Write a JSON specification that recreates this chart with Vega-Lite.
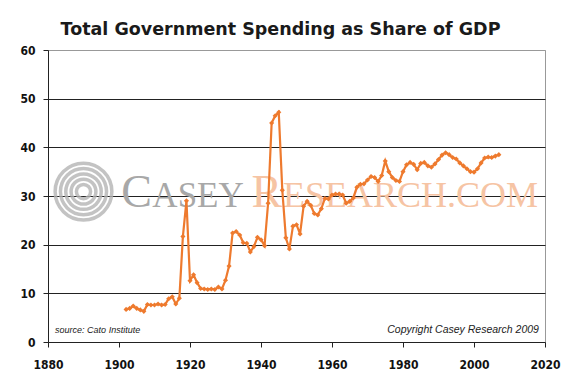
{
  "$schema": "https://vega.github.io/schema/vega-lite/v6.json",
  "width": 497,
  "height": 292,
  "autosize": {"type": "none"},
  "padding": {"left": 48, "top": 50, "right": 35, "bottom": 39},
  "background": "white",
  "title": {
    "text": "Total Government Spending as Share of GDP",
    "font": "DejaVu Sans",
    "fontSize": 17.5,
    "fontWeight": "bold",
    "color": "#1a1a1a",
    "anchor": "middle",
    "dx": -16,
    "offset": 6
  },
  "config": {
    "view": {"stroke": "#999999", "strokeWidth": 1},
    "axis": {
      "labelFont": "Liberation Sans Narrow, DejaVu Sans Condensed, sans-serif",
      "labelFontWeight": "bold",
      "labelFontSize": 12,
      "labelColor": "#111111",
      "domainColor": "#222222",
      "tickColor": "#222222",
      "tickSize": 5,
      "title": null
    }
  },
  "datasets": {
    "spend": [
      {"year": 1902, "share": 6.7}, {"year": 1903, "share": 6.9}, {"year": 1904, "share": 7.4},
      {"year": 1905, "share": 6.9}, {"year": 1906, "share": 6.6}, {"year": 1907, "share": 6.3},
      {"year": 1908, "share": 7.7}, {"year": 1909, "share": 7.6}, {"year": 1910, "share": 7.6},
      {"year": 1911, "share": 7.8}, {"year": 1912, "share": 7.6}, {"year": 1913, "share": 7.7},
      {"year": 1914, "share": 8.9}, {"year": 1915, "share": 9.3}, {"year": 1916, "share": 7.8},
      {"year": 1917, "share": 9.0}, {"year": 1918, "share": 21.7}, {"year": 1919, "share": 29.0},
      {"year": 1920, "share": 12.6}, {"year": 1921, "share": 13.8}, {"year": 1922, "share": 12.2},
      {"year": 1923, "share": 11.0}, {"year": 1924, "share": 10.9}, {"year": 1925, "share": 10.8},
      {"year": 1926, "share": 10.9}, {"year": 1927, "share": 10.8}, {"year": 1928, "share": 11.3},
      {"year": 1929, "share": 10.9}, {"year": 1930, "share": 12.7}, {"year": 1931, "share": 15.6},
      {"year": 1932, "share": 22.4}, {"year": 1933, "share": 22.7}, {"year": 1934, "share": 22.0},
      {"year": 1935, "share": 20.4}, {"year": 1936, "share": 20.3}, {"year": 1937, "share": 18.5},
      {"year": 1938, "share": 19.6}, {"year": 1939, "share": 21.5}, {"year": 1940, "share": 21.0},
      {"year": 1941, "share": 19.8}, {"year": 1942, "share": 28.5}, {"year": 1943, "share": 45.0},
      {"year": 1944, "share": 46.5}, {"year": 1945, "share": 47.2}, {"year": 1946, "share": 31.2},
      {"year": 1947, "share": 21.4}, {"year": 1948, "share": 19.1}, {"year": 1949, "share": 23.8},
      {"year": 1950, "share": 24.1}, {"year": 1951, "share": 22.2}, {"year": 1952, "share": 27.9},
      {"year": 1953, "share": 28.9}, {"year": 1954, "share": 28.1}, {"year": 1955, "share": 26.4},
      {"year": 1956, "share": 26.1}, {"year": 1957, "share": 27.4}, {"year": 1958, "share": 29.5},
      {"year": 1959, "share": 29.4}, {"year": 1960, "share": 30.2}, {"year": 1961, "share": 30.4},
      {"year": 1962, "share": 30.4}, {"year": 1963, "share": 30.2}, {"year": 1964, "share": 28.5},
      {"year": 1965, "share": 28.9}, {"year": 1966, "share": 29.6}, {"year": 1967, "share": 31.8},
      {"year": 1968, "share": 32.4}, {"year": 1969, "share": 32.5}, {"year": 1970, "share": 33.3},
      {"year": 1971, "share": 34.0}, {"year": 1972, "share": 33.8}, {"year": 1973, "share": 33.0},
      {"year": 1974, "share": 34.2}, {"year": 1975, "share": 37.2}, {"year": 1976, "share": 35.0},
      {"year": 1977, "share": 33.8}, {"year": 1978, "share": 33.2}, {"year": 1979, "share": 33.0},
      {"year": 1980, "share": 35.0}, {"year": 1981, "share": 36.4}, {"year": 1982, "share": 36.9},
      {"year": 1983, "share": 36.5}, {"year": 1984, "share": 35.4}, {"year": 1985, "share": 36.7},
      {"year": 1986, "share": 36.9}, {"year": 1987, "share": 36.2}, {"year": 1988, "share": 35.9},
      {"year": 1989, "share": 36.6}, {"year": 1990, "share": 37.5}, {"year": 1991, "share": 38.4},
      {"year": 1992, "share": 38.9}, {"year": 1993, "share": 38.5}, {"year": 1994, "share": 37.9},
      {"year": 1995, "share": 37.6}, {"year": 1996, "share": 36.8}, {"year": 1997, "share": 36.2},
      {"year": 1998, "share": 35.6}, {"year": 1999, "share": 35.0}, {"year": 2000, "share": 34.9},
      {"year": 2001, "share": 35.6}, {"year": 2002, "share": 36.8}, {"year": 2003, "share": 37.8},
      {"year": 2004, "share": 38.0}, {"year": 2005, "share": 37.9}, {"year": 2006, "share": 38.2},
      {"year": 2007, "share": 38.5}
    ],
    "one": [{}]
  },
  "layer": [
    {
      "data": {"name": "one"},
      "mark": {"type": "point", "shape": "circle", "filled": false, "strokeWidth": 3.5, "color": "#b5b5b5", "size": 3217, "opacity": 0.8},
      "encoding": {
        "x": {"datum": 1890, "type": "quantitative"},
        "y": {"datum": 30.9, "type": "quantitative"}
      }
    },
    {
      "data": {"name": "one"},
      "mark": {"type": "point", "shape": "circle", "filled": false, "strokeWidth": 3.5, "color": "#b5b5b5", "size": 2124, "opacity": 0.8},
      "encoding": {
        "x": {"datum": 1890, "type": "quantitative"},
        "y": {"datum": 30.9, "type": "quantitative"}
      }
    },
    {
      "data": {"name": "one"},
      "mark": {"type": "point", "shape": "circle", "filled": false, "strokeWidth": 3.5, "color": "#b5b5b5", "size": 1257, "opacity": 0.8},
      "encoding": {
        "x": {"datum": 1890, "type": "quantitative"},
        "y": {"datum": 30.9, "type": "quantitative"}
      }
    },
    {
      "data": {"name": "one"},
      "mark": {"type": "point", "shape": "circle", "filled": false, "strokeWidth": 3.5, "color": "#b5b5b5", "size": 616, "opacity": 0.8},
      "encoding": {
        "x": {"datum": 1890, "type": "quantitative"},
        "y": {"datum": 30.9, "type": "quantitative"}
      }
    },
    {
      "data": {"name": "one"},
      "mark": {"type": "point", "shape": "circle", "filled": false, "strokeWidth": 3.5, "color": "#b5b5b5", "size": 201, "opacity": 0.8},
      "encoding": {
        "x": {"datum": 1890, "type": "quantitative"},
        "y": {"datum": 30.9, "type": "quantitative"}
      }
    },
    {
      "data": {"name": "one"},
      "mark": {"type": "text", "text": "C", "font": "Liberation Serif", "fontSize": 46, "color": "#a8a8a8", "align": "left", "baseline": "alphabetic"},
      "encoding": {
        "x": {"datum": 1900.6, "type": "quantitative"},
        "y": {"datum": 27.7, "type": "quantitative"}
      }
    },
    {
      "data": {"name": "one"},
      "mark": {"type": "text", "text": "ASEY", "font": "Liberation Serif", "fontSize": 35, "color": "#a8a8a8", "align": "left", "baseline": "alphabetic"},
      "encoding": {
        "x": {"datum": 1909.4, "type": "quantitative"},
        "y": {"datum": 27.7, "type": "quantitative"}
      }
    },
    {
      "data": {"name": "one"},
      "mark": {"type": "text", "text": "R", "font": "Liberation Serif", "fontSize": 46, "color": "#f6c4a4", "align": "left", "baseline": "alphabetic"},
      "encoding": {
        "x": {"datum": 1937.3, "type": "quantitative"},
        "y": {"datum": 27.7, "type": "quantitative"}
      }
    },
    {
      "data": {"name": "one"},
      "mark": {"type": "text", "text": "ESEARCH.COM", "font": "Liberation Serif", "fontSize": 36, "color": "#f6c4a4", "align": "left", "baseline": "alphabetic"},
      "encoding": {
        "x": {"datum": 1946.2, "type": "quantitative"},
        "y": {"datum": 27.7, "type": "quantitative"}
      }
    },
    {
      "data": {"name": "one"},
      "mark": {"type": "text", "text": "source: Cato Institute", "font": "Liberation Sans", "fontStyle": "italic", "fontSize": 9, "color": "#222222", "align": "left", "baseline": "alphabetic"},
      "encoding": {
        "x": {"datum": 1882, "type": "quantitative"},
        "y": {"datum": 1.8, "type": "quantitative"}
      }
    },
    {
      "data": {"name": "one"},
      "mark": {"type": "text", "text": "Copyright Casey Research 2009", "font": "Liberation Sans", "fontStyle": "italic", "fontSize": 10.5, "color": "#222222", "align": "right", "baseline": "alphabetic"},
      "encoding": {
        "x": {"datum": 2018.3, "type": "quantitative"},
        "y": {"datum": 1.8, "type": "quantitative"}
      }
    },
    {
      "data": {"name": "spend"},
      "mark": {
        "type": "line",
        "color": "#EE7A2E",
        "strokeWidth": 2.2,
        "point": {"shape": "diamond", "size": 26, "filled": true, "color": "#EE7A2E"}
      },
      "encoding": {
        "x": {
          "field": "year",
          "type": "quantitative",
          "scale": {"domain": [1880, 2020], "nice": false, "zero": false},
          "axis": {"values": [1880, 1900, 1920, 1940, 1960, 1980, 2000, 2020], "format": "d", "grid": false, "labelPadding": 12, "labelFlush": false}
        },
        "y": {
          "field": "share",
          "type": "quantitative",
          "scale": {"domain": [0, 60], "nice": false},
          "axis": {
            "values": [0, 10, 20, 30, 40, 50, 60],
            "grid": true,
            "gridColor": {"condition": {"test": "datum.value === 60 || datum.value === 0", "value": "#999999"}, "value": "#222222"},
            "gridWidth": 1.2,
            "labelPadding": 8
          }
        }
      }
    }
  ]
}
